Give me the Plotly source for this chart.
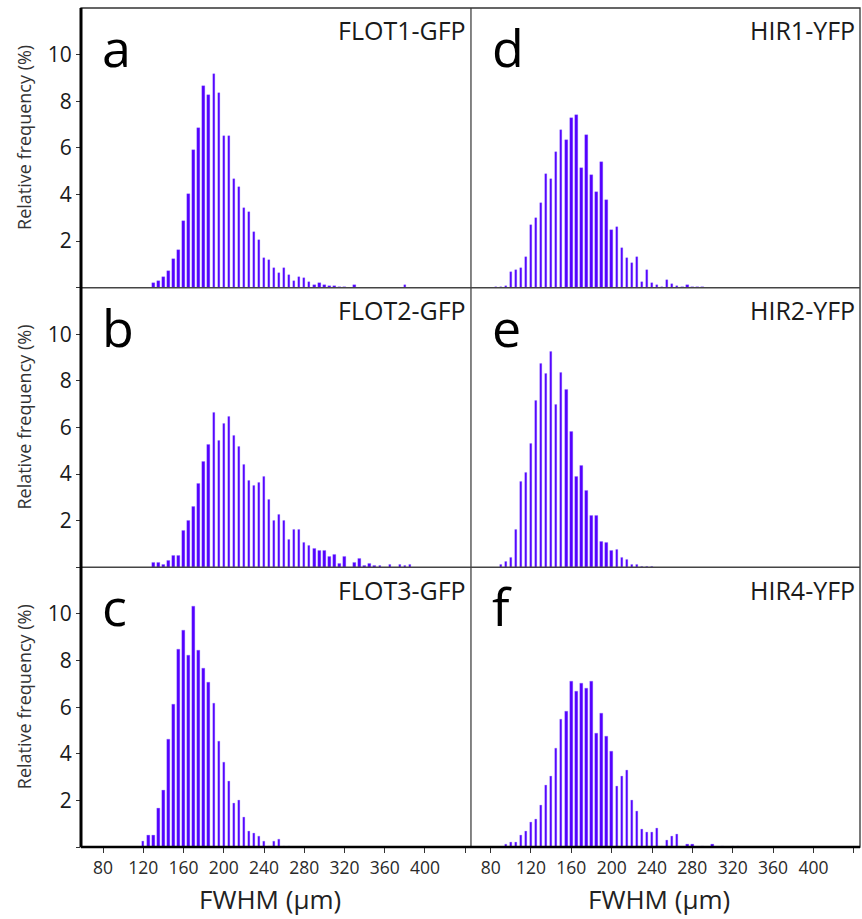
import plotly.graph_objects as go

# Relative frequency (%) of FWHM values in 5 µm bins, one histogram per construct
BIN_WIDTH = 5

flot1_start = 130
flot1_freq = [0.21, 0.30, 0.47, 0.72, 1.22, 1.63, 2.87, 4.00, 5.92, 6.84,
              8.66, 8.27, 9.15, 8.37, 6.52, 6.52, 4.65, 4.33, 3.41, 3.25,
              2.37, 2.06, 1.28, 1.20, 0.86, 0.62, 0.86, 0.54, 0.29, 0.47,
              0.40, 0.26, 0.11, 0.20, 0.10, 0.07, 0.07, 0.03, 0.05, 0.00,
              0.12, 0.00, 0.00, 0.00, 0.00, 0.00, 0.00, 0.00, 0.00, 0.00,
              0.10]

flot2_start = 130
flot2_freq = [0.22, 0.22, 0.11, 0.27, 0.50, 0.50, 1.56, 2.02, 2.62, 3.57,
              4.52, 5.26, 6.64, 5.42, 6.15, 6.48, 5.66, 5.19, 4.42, 3.73,
              3.50, 3.63, 3.90, 2.91, 2.02, 2.24, 2.01, 1.18, 1.62, 1.62,
              1.06, 0.95, 0.79, 0.72, 0.72, 0.44, 0.56, 0.17, 0.46, 0.00,
              0.22, 0.39, 0.07, 0.17, 0.07, 0.07, 0.00, 0.11, 0.00, 0.11,
              0.07, 0.13]

flot3_start = 120
flot3_freq = [0.23, 0.52, 0.52, 1.65, 2.42, 4.62, 6.11, 8.50, 9.28, 8.21,
              10.34, 8.43, 7.66, 7.08, 6.16, 4.53, 3.63, 2.80, 1.86, 2.00,
              1.29, 0.66, 0.59, 0.45, 0.23, 0.05, 0.23, 0.32, 0.04, 0.02]

hir1_start = 85
hir1_freq = [0.03, 0.03, 0.07, 0.69, 0.77, 0.83, 1.32, 2.67, 2.97, 3.64,
             4.86, 4.67, 5.82, 6.78, 6.35, 7.28, 7.43, 5.13, 6.55, 4.82,
             4.09, 5.39, 3.76, 2.48, 2.62, 1.72, 1.28, 1.08, 1.32, 0.24,
             0.77, 0.19, 0.10, 0.03, 0.34, 0.16, 0.06, 0.03, 0.10, 0.03,
             0.03, 0.03]

hir2_start = 90
hir2_freq = [0.11, 0.26, 0.42, 1.63, 3.66, 4.06, 5.29, 7.17, 8.75, 8.29,
             9.26, 6.97, 8.34, 7.63, 5.81, 3.91, 4.37, 3.30, 2.21, 2.21,
             1.10, 1.06, 0.72, 0.77, 0.43, 0.33, 0.11, 0.11, 0.03, 0.02,
             0.02]

hir4_start = 95
hir4_freq = [0.10, 0.22, 0.22, 0.49, 0.67, 1.08, 1.20, 1.79, 2.65, 3.05,
             4.23, 5.48, 5.81, 7.11, 6.68, 7.04, 6.80, 7.11, 4.89, 5.73,
             4.75, 4.10, 2.59, 3.04, 3.31, 1.99, 1.52, 0.75, 0.62, 0.62,
             0.82, 0.03, 0.29, 0.47, 0.53, 0.00, 0.10, 0.10, 0.00, 0.04,
             0.00, 0.10, 0.00, 0.04, 0.00, 0.04, 0.04]

panel_letters = ["a", "d", "b", "e", "c", "f"]
panel_names = ["FLOT1-GFP", "HIR1-YFP", "FLOT2-GFP", "HIR2-YFP", "FLOT3-GFP", "HIR4-YFP"]
panel_data = [(flot1_start, flot1_freq), (hir1_start, hir1_freq),
              (flot2_start, flot2_freq), (hir2_start, hir2_freq),
              (flot3_start, flot3_freq), (hir4_start, hir4_freq)]

x_tick_vals = [80, 120, 160, 200, 240, 280, 320, 360, 400, 440]
x_tick_text = ["80", "120", "160", "200", "240", "280", "320", "360", "400", ""]
y_tick_vals = [0, 2, 4, 6, 8, 10]
y_tick_text = ["", "2", "4", "6", "8", "10"]

BAR_COLOR = "#5400ff"
FONT = "Open Sans"
TEXT_COLOR = "#1a1a1a"

# geometry of the 3x2 grid (paper coordinates)
col_split = 0.5006
col_domains = [[0.0, col_split], [col_split, 1.0]]
row_domains = [[2 / 3, 1.0], [1 / 3, 2 / 3], [0.0, 1 / 3]]
x_ranges = [[58.1, 445.7], [60.5, 446.2]]

fig = go.Figure()
layout = {}
annotations = []

for i, (letter, name, (start, freq)) in enumerate(zip(panel_letters, panel_names, panel_data)):
    row, col = divmod(i, 2)
    n = i + 1
    xa = "x" if n == 1 else f"x{n}"
    ya = "y" if n == 1 else f"y{n}"
    bins = [start + BIN_WIDTH * k for k in range(len(freq))]
    fig.add_trace(go.Bar(
        x=bins, y=freq, width=2.4, xaxis=xa, yaxis=ya,
        marker=dict(color=BAR_COLOR, line=dict(width=0.4, color="rgba(130,100,255,0.7)")),
        showlegend=False, hoverinfo="x+y",
    ))
    bottom = row == 2
    left = col == 0
    xkey = "xaxis" if n == 1 else f"xaxis{n}"
    ykey = "yaxis" if n == 1 else f"yaxis{n}"
    layout[xkey] = dict(
        domain=col_domains[col], anchor=ya, range=x_ranges[col],
        tickvals=x_tick_vals, ticktext=x_tick_text,
        showticklabels=bottom, ticks="outside" if bottom else "",
        ticklen=5, tickwidth=1, tickcolor="#333",
        tickfont=dict(family=FONT, size=17.5, color="#2a2a2a"),
        showgrid=False, zeroline=False, showline=False, fixedrange=True,
    )
    layout[ykey] = dict(
        domain=row_domains[row], anchor=xa, range=[0, 12],
        tickvals=y_tick_vals, ticktext=y_tick_text,
        showticklabels=left, ticks="outside" if left else "",
        ticklen=4, tickwidth=1, tickcolor="#333",
        tickfont=dict(family=FONT, size=21, color=TEXT_COLOR),
        showgrid=False, zeroline=False, showline=False, fixedrange=True,
    )
    x0, x1 = col_domains[col]
    y0, y1 = row_domains[row]
    # panel letter
    annotations.append(dict(
        text=letter, xref="paper", yref="paper", x=x0 + 0.025, y=y1 - 0.001,
        xanchor="left", yanchor="top", showarrow=False,
        font=dict(family=FONT, size=52, color="#000"),
    ))
    # construct name
    annotations.append(dict(
        text=name, xref="paper", yref="paper", x=x1 - 0.004, y=y1 - 0.004,
        xanchor="right", yanchor="top", showarrow=False,
        font=dict(family=FONT, size=25, color=TEXT_COLOR),
    ))

# axis titles
for row in range(3):
    y0, y1 = row_domains[row]
    annotations.append(dict(
        text="Relative frequency (%)", xref="paper", yref="paper",
        x=-0.073, y=(y0 + y1) / 2 + 0.012, xanchor="center", yanchor="middle",
        textangle=-90, showarrow=False,
        font=dict(family=FONT, size=18, color="#333"),
    ))
for col in range(2):
    x0, x1 = col_domains[col]
    annotations.append(dict(
        text="FWHM (µm)", xref="paper", yref="paper",
        x=(x0 + x1) / 2 - 0.008, y=-0.062, xanchor="center", yanchor="middle",
        showarrow=False, font=dict(family=FONT, size=26, color="#222"),
    ))

# frame: thin outline, column divider and row separators; heavier left/bottom edges
shapes = [
    dict(type="rect", xref="paper", yref="paper", x0=0, x1=1, y0=0, y1=1,
         line=dict(color="#333", width=1.3)),
    dict(type="line", xref="paper", yref="paper", x0=col_split, x1=col_split, y0=0, y1=1,
         line=dict(color="#333", width=1.2)),
    dict(type="line", xref="paper", yref="paper", x0=0, x1=1, y0=1 / 3, y1=1 / 3,
         line=dict(color="#444", width=1.5)),
    dict(type="line", xref="paper", yref="paper", x0=0, x1=1, y0=2 / 3, y1=2 / 3,
         line=dict(color="#444", width=1.5)),
    dict(type="line", xref="paper", yref="paper", x0=0, x1=0, y0=0, y1=1,
         line=dict(color="#000", width=3)),
    dict(type="line", xref="paper", yref="paper", x0=0, x1=1, y0=0, y1=0,
         line=dict(color="#000", width=2.5)),
]

fig.update_layout(
    width=862, height=919,
    margin=dict(l=81, r=2, t=8, b=72),
    paper_bgcolor="white", plot_bgcolor="white",
    bargap=0, annotations=annotations, shapes=shapes,
    font=dict(family=FONT),
    **layout,
)

fig.write_html("out.html")
